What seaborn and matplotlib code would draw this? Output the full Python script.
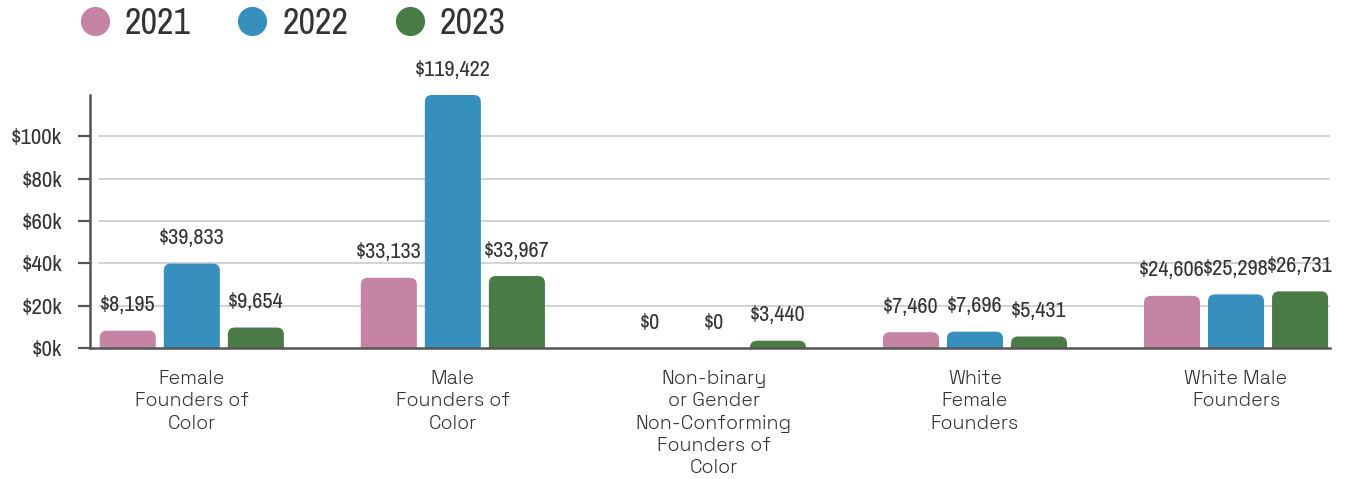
import matplotlib
matplotlib.use("Agg")
import matplotlib.pyplot as plt
from matplotlib.patches import FancyBboxPatch
from matplotlib.lines import Line2D
from matplotlib.ticker import FuncFormatter
import seaborn as sns
import pandas as pd

# Average funding per founder group, by year
categories = [
    "Female\nFounders of\nColor",
    "Male\nFounders of\nColor",
    "Non-binary\nor Gender\nNon-Conforming\nFounders of\nColor",
    "White\nFemale\nFounders",
    "White Male\nFounders",
]
years = ["2021", "2022", "2023"]
values_2021 = [8195, 33133, 0, 7460, 24606]
values_2022 = [39833, 119422, 0, 7696, 25298]
values_2023 = [9654, 33967, 3440, 5431, 26731]
colors = ["#C584A3", "#378FBE", "#4A7A45"]

df = pd.DataFrame({
    "category": categories * 3,
    "year": [y for y in years for _ in categories],
    "value": values_2021 + values_2022 + values_2023,
})

sns.set_theme(style="white")
num_font = ["Archivo Narrow", "Roboto", "DejaVu Sans"]
cat_font = ["Space Grotesk", "Lato", "DejaVu Sans"]
plt.rcParams["font.family"] = num_font
text_color = "#333333"

fig = plt.figure(figsize=(13.65, 4.79), dpi=100)
ax = fig.add_axes([90 / 1365, 1 - 348 / 479, 1240 / 1365, 253 / 479])

sns.barplot(data=df, x="category", y="value", hue="year", hue_order=years,
            palette=colors, width=0.736, gap=0.125, legend=False, ax=ax,
            saturation=1, errorbar=None)

ymax = max(values_2022)
ax.set_ylim(0, ymax)
ax.set_xlim(-0.39, len(categories) - 1 + 0.36)

# Swap the plain rectangles for bars with rounded tops
fig.canvas.draw()
px_x = (ax.get_xlim()[1] - ax.get_xlim()[0]) / ax.bbox.width
px_y = (ax.get_ylim()[1] - ax.get_ylim()[0]) / ax.bbox.height
radius_px = 7
bars = list(ax.patches)
for p in bars:
    x, w, h = p.get_x(), p.get_width(), p.get_height()
    fc = p.get_facecolor()
    p.remove()
    if h > 0:
        extra = radius_px * px_y
        rb = FancyBboxPatch((x, -extra), w, h + extra,
                            boxstyle=f"round,pad=0,rounding_size={radius_px * px_x}",
                            mutation_aspect=px_y / px_x,
                            facecolor=fc, edgecolor="none", zorder=3)
        ax.add_patch(rb)
    ax.annotate(f"${h:,.0f}", (x + w / 2, h), xytext=(0, 14),
                textcoords="offset points", ha="center", va="baseline",
                fontsize=16, color=text_color, family=num_font)

# Gridlines start a little right of the axis line
for yv in range(20000, 120000, 20000):
    ax.axhline(yv, xmin=9 / 1240, xmax=1, color="#cfcfcf", lw=1.3, zorder=1)

ax.set_yticks(range(0, 120000, 20000))
ax.yaxis.set_major_formatter(FuncFormatter(lambda v, _: f"${v / 1000:.0f}k"))
ax.tick_params(axis="y", length=9, width=1.6, color="#555555", pad=11,
               labelsize=16.5, labelcolor=text_color, left=True)
ax.tick_params(axis="x", length=0, pad=16)
for lab in ax.get_xticklabels():
    lab.set_fontfamily(cat_font)
    lab.set_fontsize(14)
    lab.set_fontweight("semibold")
    lab.set_color(text_color)
    lab.set_linespacing(1.3)
    lab.set_verticalalignment("top")

for side in ("top", "right"):
    ax.spines[side].set_visible(False)
for side in ("left", "bottom"):
    ax.spines[side].set_color("#555555")
    ax.spines[side].set_linewidth(1.8)
    ax.spines[side].set_zorder(4)

ax.set_xlabel("")
ax.set_ylabel("")

handles = [Line2D([], [], marker="o", linestyle="none", markersize=21,
                  markerfacecolor=c, markeredgecolor="none") for c in colors]
fig.legend(handles, years, loc="center left", bbox_to_anchor=(77 / 1365, 1 - 23 / 479),
           ncol=3, frameon=False, fontsize=26, labelcolor=text_color,
           handletextpad=0.33, columnspacing=1.2, handlelength=1.0,
           borderaxespad=0, borderpad=0)

fig.savefig("out.png", dpi=100)
